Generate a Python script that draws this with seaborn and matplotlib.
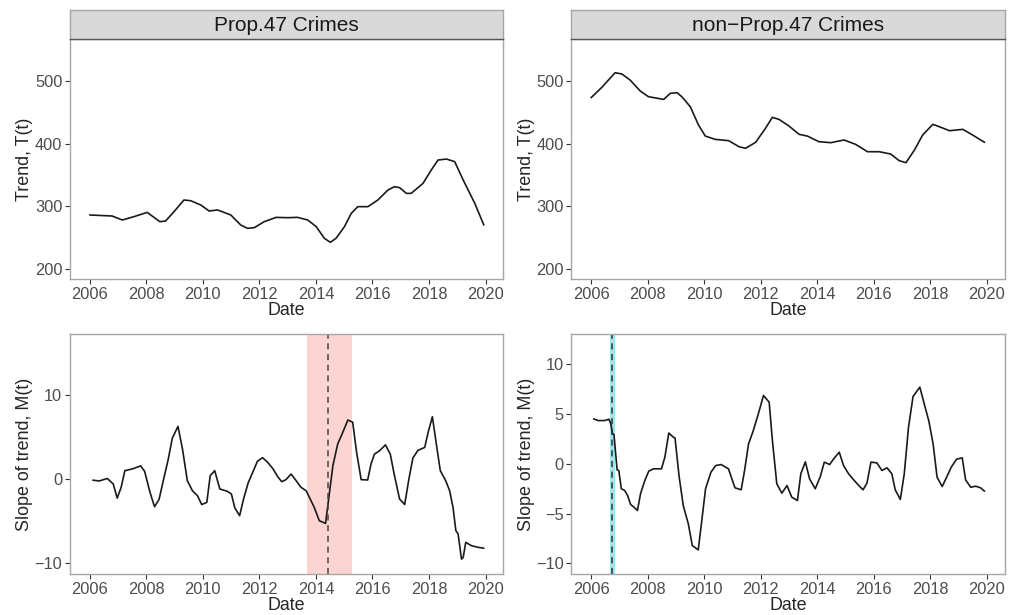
import pandas as pd
import seaborn as sns
import matplotlib
matplotlib.use("Agg")
import matplotlib.pyplot as plt

# =========================
#  Data
# =========================

panel_titles = ["Prop.47 Crimes", "non\u2212Prop.47 Crimes"]

# Trend T(t), Prop.47
p47_trend_year = [2006.00, 2006.79, 2007.15, 2007.56, 2008.03, 2008.48, 2008.68, 2008.98,
                  2009.33, 2009.57, 2009.93, 2010.22, 2010.52, 2010.99, 2011.34, 2011.58,
                  2011.82, 2012.17, 2012.59, 2013.00, 2013.35, 2013.71, 2014.01, 2014.30,
                  2014.51, 2014.71, 2015.01, 2015.25, 2015.48, 2015.84, 2016.19, 2016.55,
                  2016.78, 2016.96, 2017.20, 2017.37, 2017.79, 2018.08, 2018.32, 2018.62,
                  2018.91, 2019.21, 2019.62, 2019.94]
p47_trend = [286.2, 284.6, 278.2, 283.5, 290.4, 275.5, 276.6, 291.5,
             310.1, 309.0, 302.1, 292.6, 294.2, 286.2, 270.2, 264.9,
             266.0, 275.5, 282.4, 281.9, 282.4, 278.2, 267.6, 248.9,
             242.6, 248.9, 267.6, 288.8, 299.5, 299.5, 310.1, 326.1,
             331.4, 329.8, 320.7, 320.7, 336.7, 358.0, 373.9, 375.5,
             371.3, 342.0, 304.8, 270.2]

# Trend T(t), non-Prop.47
np47_trend_year = [2006.00, 2006.38, 2006.85, 2007.09, 2007.38, 2007.74, 2008.03, 2008.57,
                   2008.80, 2009.04, 2009.21, 2009.51, 2009.80, 2010.04, 2010.39, 2010.87,
                   2011.23, 2011.46, 2011.82, 2012.17, 2012.41, 2012.65, 2013.00, 2013.36,
                   2013.65, 2014.06, 2014.48, 2014.95, 2015.36, 2015.78, 2016.19, 2016.60,
                   2016.90, 2017.14, 2017.44, 2017.73, 2018.09, 2018.32, 2018.68, 2019.15,
                   2019.50, 2019.92]
np47_trend = [473.4, 489.9, 513.3, 511.2, 501.6, 484.0, 475.0, 470.7,
              480.3, 481.4, 475.0, 459.0, 429.8, 412.2, 406.9, 404.8,
              395.2, 392.6, 402.1, 424.5, 442.0, 438.8, 428.2, 414.9,
              412.2, 403.2, 401.6, 405.9, 398.9, 387.2, 387.2, 383.5,
              372.9, 369.7, 389.9, 413.8, 430.9, 427.1, 420.7, 422.9,
              413.8, 402.1]

# Slope of trend M(t), Prop.47
p47_slope_year = [2006.11, 2006.33, 2006.62, 2006.83, 2006.97, 2007.11, 2007.24, 2007.50,
                  2007.80, 2007.94, 2008.13, 2008.29, 2008.45, 2008.60, 2008.77, 2008.92,
                  2009.12, 2009.28, 2009.45, 2009.63, 2009.81, 2009.96, 2010.14, 2010.26,
                  2010.42, 2010.60, 2010.87, 2011.01, 2011.13, 2011.30, 2011.44, 2011.60,
                  2011.76, 2011.93, 2012.11, 2012.29, 2012.47, 2012.65, 2012.79, 2012.94,
                  2013.12, 2013.30, 2013.47, 2013.65, 2013.77, 2013.94, 2014.12, 2014.34,
                  2014.45, 2014.60, 2014.77, 2014.95, 2015.13, 2015.30, 2015.44, 2015.60,
                  2015.83, 2015.95, 2016.07, 2016.25, 2016.46, 2016.63, 2016.78, 2016.96,
                  2017.14, 2017.29, 2017.43, 2017.61, 2017.85, 2017.97, 2018.12, 2018.26,
                  2018.40, 2018.59, 2018.73, 2018.85, 2018.95, 2019.03, 2019.15, 2019.21,
                  2019.30, 2019.50, 2019.74, 2019.94]
p47_slope = [-0.1, -0.2, 0.1, -0.56, -2.23, -0.95, 1.03, 1.23,
             1.6, 0.95, -1.55, -3.26, -2.4, -0.16, 2.3, 4.9,
             6.3, 3.6, -0.16, -1.35, -1.95, -3.0, -2.75, 0.43,
             1.03, -1.15, -1.43, -1.75, -3.4, -4.33, -2.35, -0.45,
             0.8, 2.14, 2.58, 2.03, 1.3, 0.31, -0.28, -0.04,
             0.63, -0.16, -0.95, -1.35, -2.14, -3.34, -4.93, -5.25,
             -2.35, 1.62, 4.2, 5.59, 7.06, 6.8, 3.2, -0.04,
             -0.08, 1.83, 3.0, 3.4, 4.1, 3.0, 0.43, -2.35,
             -3.0, 0.04, 2.53, 3.45, 3.8, 5.59, 7.45, 4.2,
             1.03, -0.16, -1.35, -3.34, -6.1, -6.5, -9.5, -9.3,
             -7.5, -7.9, -8.1, -8.2]

# Slope of trend M(t), non-Prop.47
np47_slope_year = [2006.09, 2006.25, 2006.48, 2006.63, 2006.70, 2006.76, 2006.81, 2006.92,
                   2006.98, 2007.07, 2007.19, 2007.29, 2007.40, 2007.52, 2007.64, 2007.75,
                   2007.90, 2008.04, 2008.20, 2008.49, 2008.61, 2008.75, 2008.91, 2008.97,
                   2009.11, 2009.26, 2009.44, 2009.58, 2009.79, 2009.91, 2010.05, 2010.24,
                   2010.41, 2010.60, 2010.86, 2011.09, 2011.31, 2011.43, 2011.57, 2011.74,
                   2011.90, 2012.10, 2012.30, 2012.42, 2012.57, 2012.75, 2012.93, 2013.10,
                   2013.30, 2013.42, 2013.58, 2013.73, 2013.93, 2014.11, 2014.25, 2014.44,
                   2014.58, 2014.78, 2014.93, 2015.11, 2015.29, 2015.47, 2015.62, 2015.76,
                   2015.90, 2016.11, 2016.29, 2016.47, 2016.64, 2016.76, 2016.94, 2017.08,
                   2017.23, 2017.39, 2017.63, 2017.77, 2017.95, 2018.10, 2018.24, 2018.42,
                   2018.59, 2018.74, 2018.93, 2019.13, 2019.25, 2019.43, 2019.61, 2019.78,
                   2019.92]
np47_slope = [4.52, 4.35, 4.35, 4.49, 4.0, 3.0, 2.95, -0.6,
              -0.67, -2.5, -2.68, -3.18, -4.09, -4.36, -4.69, -3.0,
              -1.68, -0.74, -0.5, -0.5, 0.67, 3.1, 2.68, 2.6,
              -1.17, -4.19, -6.03, -8.21, -8.65, -5.86, -2.5, -0.84,
              -0.17, -0.07, -0.5, -2.41, -2.61, -0.67, 2.0, 3.35,
              4.86, 6.87, 6.2, 2.18, -2.0, -2.95, -2.18, -3.35,
              -3.69, -1.0, 0.2, -1.51, -2.51, -1.27, 0.17, -0.07,
              0.5, 1.17, -0.17, -1.0, -1.61, -2.18, -2.61, -1.94,
              0.17, 0.1, -0.67, -0.4, -1.0, -2.61, -3.58, -1.0,
              3.69, 6.77, 7.71, 6.2, 4.29, 2.01, -1.34, -2.28,
              -1.27, -0.34, 0.47, 0.6, -1.61, -2.35, -2.25, -2.41,
              -2.75]

# change-point (dashed) and its interval (shaded)
p47_cp, p47_cp_lo, p47_cp_hi = 2014.43, 2013.68, 2015.27
np47_cp, np47_cp_lo, np47_cp_hi = 2006.74, 2006.66, 2006.83

year_ticks = [2006, 2008, 2010, 2012, 2014, 2016, 2018, 2020]

# =========================
#  Figure
# =========================
sns.set_theme(style="white")
plt.rcParams["font.family"] = ["Liberation Sans", "DejaVu Sans"]

fig = plt.figure(figsize=(10.16, 6.15), dpi=100)

lefts = [0.0689, 0.5623]
width = 0.4265
tops_bottom = [0.5463, 0.0667]
height = 0.3902

trend_df = [pd.DataFrame({"Date": p47_trend_year, "T": p47_trend}),
            pd.DataFrame({"Date": np47_trend_year, "T": np47_trend})]
slope_df = [pd.DataFrame({"Date": p47_slope_year, "M": p47_slope}),
            pd.DataFrame({"Date": np47_slope_year, "M": np47_slope})]
cps = [(p47_cp, p47_cp_lo, p47_cp_hi, "#FCD4D2", "#444444"),
       (np47_cp, np47_cp_lo, np47_cp_hi, "#9FE6EA", "#1E3A3C")]
slope_ylims = [(-11.27, 17.3), (-11.07, 13.05)]
slope_yticks = [[-10, 0, 10], [-10, -5, 0, 5, 10]]

border = "#A6A6A6"
tickcol = "#4D4D4D"


def style_axis(ax):
    for sp in ax.spines.values():
        sp.set_color(border)
        sp.set_linewidth(1.0)
    ax.tick_params(axis="both", which="major", direction="out", length=3.5,
                   width=0.8, color="#333333", labelcolor=tickcol, labelsize=11.8,
                   bottom=True, left=True, pad=2)
    ax.set_xlim(2005.30, 2020.63)
    ax.set_xticks(year_ticks)
    ax.grid(False)


for i in range(2):
    # trend
    ax = fig.add_axes([lefts[i], tops_bottom[0], width, height])
    sns.lineplot(data=trend_df[i], x="Date", y="T", ax=ax, color="#1A1A1A", linewidth=1.2)
    style_axis(ax)
    ax.set_ylim(184, 567)
    ax.set_yticks([200, 300, 400, 500])
    ax.set_xlabel("Date", fontsize=12.9, labelpad=0)
    ax.set_ylabel("Trend, T(t)", fontsize=12.9, labelpad=1)

    # facet strip
    sax = fig.add_axes([lefts[i], tops_bottom[0] + height, width, 0.0471])
    sax.set_facecolor("#D9D9D9")
    sax.set_xticks([])
    sax.set_yticks([])
    for sp in sax.spines.values():
        sp.set_color(border)
        sp.set_linewidth(1.0)
    sax.spines["bottom"].set_color("#555555")
    sax.text(0.5, 0.47, panel_titles[i], ha="center", va="center",
             fontsize=15, color="#1A1A1A", transform=sax.transAxes)

    # slope
    ax = fig.add_axes([lefts[i], tops_bottom[1], width, height])
    cp, lo, hi, fill, dash = cps[i]
    ax.axvspan(lo, hi, color=fill, lw=0, zorder=0)
    sns.lineplot(data=slope_df[i], x="Date", y="M", ax=ax, color="#1A1A1A", linewidth=1.2)
    ax.axvline(cp, color=dash, linestyle=(0, (4, 3)), linewidth=1.1)
    style_axis(ax)
    ax.set_ylim(*slope_ylims[i])
    ax.set_yticks(slope_yticks[i])
    ax.set_yticklabels([f"{v:d}".replace("-", "\u2212") for v in slope_yticks[i]])
    ax.set_xlabel("Date", fontsize=12.9, labelpad=0)
    ax.set_ylabel("Slope of trend, M(t)", fontsize=12.9, labelpad=1)

fig.savefig("out.png", dpi=100)
